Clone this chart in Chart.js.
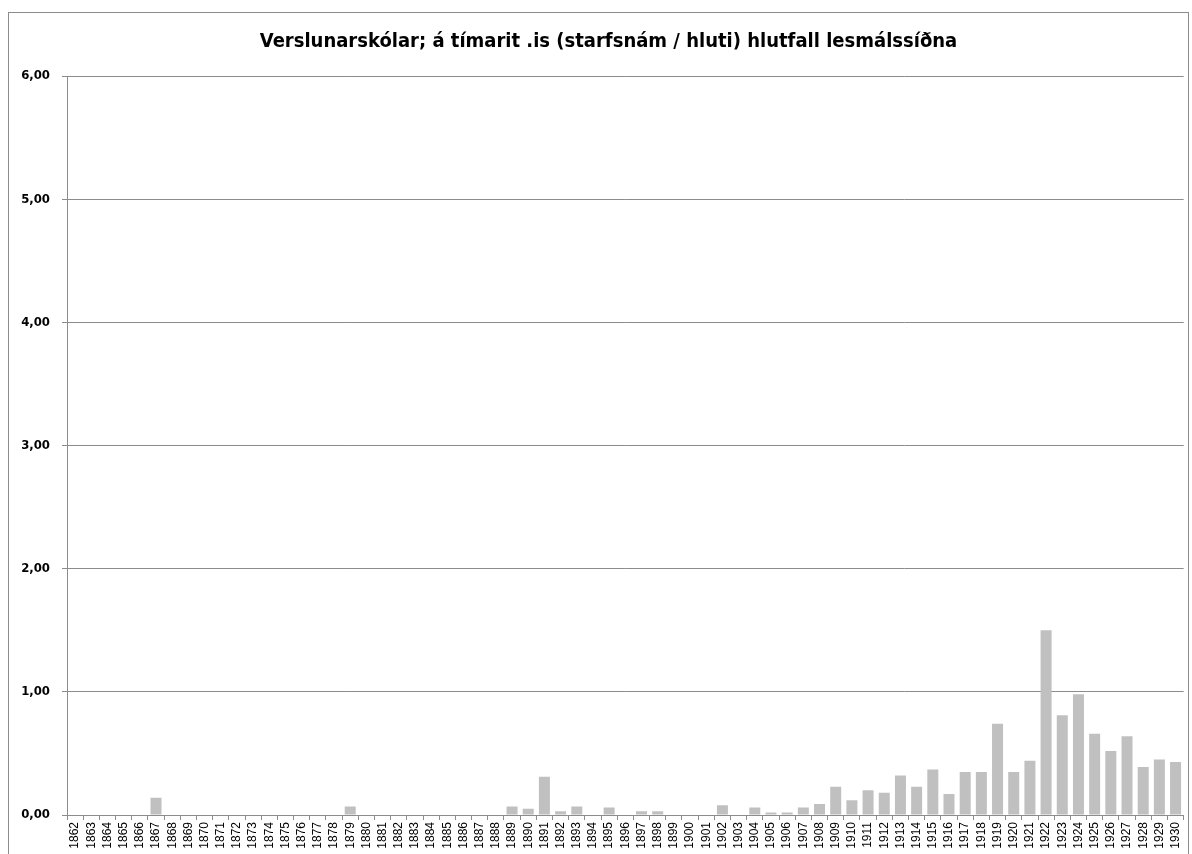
<!DOCTYPE html>
<html>
<head>
<meta charset="utf-8">
<script src="https://cdn.jsdelivr.net/npm/chart.js@4.4.0/dist/chart.umd.min.js"></script>
<style>
  html, body { margin: 0; padding: 0; background: #fff; overflow: hidden; }
  #frame { position: absolute; left: 8px; top: 12px; width: 1181px; height: 860px;
           border: 1px solid #8c8c8c; box-sizing: border-box; }
  #wrap { position: absolute; left: 0; top: 0; width: 1192px; height: 854px; }
</style>
</head>
<body>
<div id="frame"></div>
<div id="wrap"><canvas id="chart" width="1192" height="854"></canvas></div>
<script>
// Years on the x axis
const years = [];
for (let y = 1862; y <= 1930; y++) years.push(String(y));

// Share of pages per year, same order as years
const shares = [
    0, 0, 0, 0, 0, 0.14, 0, 0, 0, 0,          // 1862-1871
    0, 0, 0, 0, 0, 0, 0, 0.07, 0, 0,          // 1872-1881
    0, 0, 0, 0, 0, 0, 0, 0.07, 0.05, 0.31,    // 1882-1891
    0.03, 0.07, 0, 0.06, 0, 0.03, 0.03, 0, 0, 0, // 1892-1901
    0.08, 0, 0.06, 0.02, 0.02, 0.06, 0.09, 0.23, 0.12, 0.20, // 1902-1911
    0.18, 0.32, 0.23, 0.37, 0.17, 0.35, 0.35, 0.74, 0.35, 0.44, // 1912-1921
    1.50, 0.81, 0.98, 0.66, 0.52, 0.64, 0.39, 0.45, 0.43 // 1922-1930
];

const yTicks = [0, 1, 2, 3, 4, 5, 6];
const titleText = 'Verslunarskólar; á tímarit .is (starfsnám / hluti) hlutfall lesmálssíðna';

// nudge the title box so its centre sits where the original has it
const titleShift = {
    id: 'titleShift',
    afterLayout(chart) {
        if (chart.titleBlock) chart.titleBlock.left = 30;
    }
};

const chart = new Chart(document.getElementById('chart'), {
    type: 'bar',
    data: {
        labels: years,
        datasets: [{
            data: shares,
            backgroundColor: '#c0c0c0',
            borderWidth: 0,
            barPercentage: 0.68,
            categoryPercentage: 1.0
        }]
    },
    plugins: [titleShift],
    options: {
        responsive: false,
        animation: false,
        layout: { padding: { top: 0, right: 5, bottom: 0, left: 0 } },
        plugins: {
            legend: { display: false },
            tooltip: { enabled: false },
            title: {
                display: true,
                text: titleText,
                color: '#000',
                font: { family: 'DejaVu Sans Condensed, Liberation Sans', size: 20, weight: 'bold' },
                padding: { top: 30, bottom: 22 }
            }
        },
        scales: {
            x: {
                offset: true,
                afterFit: s => { s.height = 39; },
                grid: { display: true, drawOnChartArea: false, color: '#8c8c8c', tickLength: 5, offset: true },
                border: { color: '#8c8c8c' },
                ticks: {
                    autoSkip: false,
                    maxRotation: 90,
                    minRotation: 90,
                    color: '#000',
                    padding: 2,
                    font: { family: 'Liberation Sans', size: 12 }
                }
            },
            y: {
                min: 0,
                max: 6,
                afterFit: s => { s.width = 67; },
                afterBuildTicks: s => { s.ticks = yTicks.map(v => ({ value: v })); },
                grid: { color: '#8c8c8c', tickLength: 5 },
                border: { color: '#8c8c8c' },
                ticks: {
                    color: '#000',
                    padding: 12,
                    font: { family: 'DejaVu Sans Condensed, Liberation Sans', size: 13, weight: 'bold' },
                    callback: v => v.toFixed(2).replace('.', ',')
                }
            }
        }
    }
});
</script>
</body>
</html>
